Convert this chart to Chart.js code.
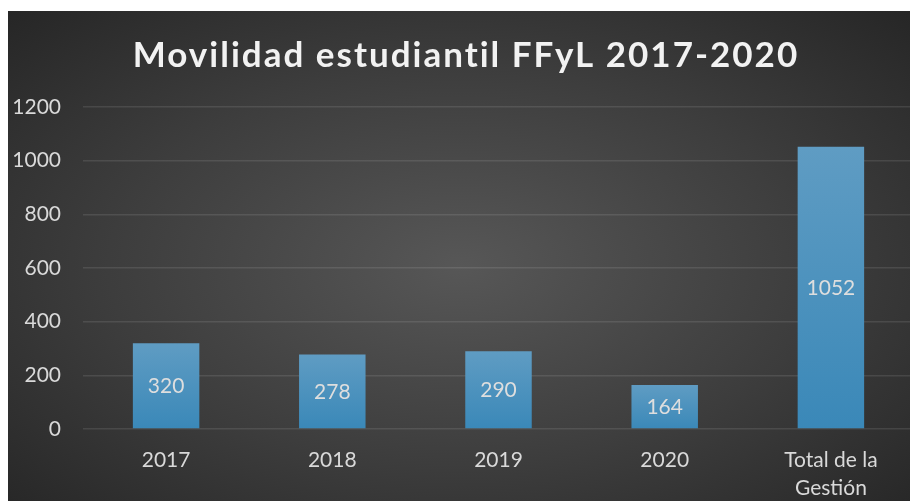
<!DOCTYPE html>
<html>
<head>
<meta charset="utf-8">
<script src="https://cdn.jsdelivr.net/npm/chart.js@4"></script>
<style>
  html, body { margin: 0; padding: 0; background: #ffffff; width: 910px; height: 501px; overflow: hidden; }
  #wrap {
    position: absolute; left: 8px; top: 11px; width: 906px; height: 490px;
    background: radial-gradient(ellipse farthest-corner at 50% 52%, #575757 0%, #3d3d3d 55%, #262626 100%);
  }
  canvas { display: block; }
</style>
</head>
<body>
<div id="wrap"><canvas id="c" width="906" height="490"></canvas></div>
<script>
const titleText = 'Movilidad estudiantil FFyL 2017-2020';
const categories = ['2017', '2018', '2019', '2020', ['Total de la', 'Gestión']];
const values = [320, 278, 290, 164, 1052];
const yTicks = [0, 200, 400, 600, 800, 1000, 1200];

const FONT = 'Lato, "Open Sans", sans-serif';

const titlePlugin = {
  id: 'customTitle',
  afterDraw(chart) {
    const ctx = chart.ctx;
    ctx.save();
    ctx.font = 'bold 35px ' + FONT;
    ctx.fillStyle = '#f2f2f2';
    ctx.textAlign = 'center';
    ctx.textBaseline = 'alphabetic';
    try { ctx.letterSpacing = '2px'; } catch (e) {}
    ctx.fillText(titleText, 458, 56);
    ctx.restore();
  }
};

const labelPlugin = {
  id: 'barLabels',
  afterDatasetsDraw(chart) {
    const ctx = chart.ctx;
    const meta = chart.getDatasetMeta(0);
    ctx.save();
    ctx.font = '21px ' + FONT;
    ctx.fillStyle = '#dedede';
    ctx.textAlign = 'center';
    ctx.textBaseline = 'middle';
    meta.data.forEach((el, i) => {
      const v = chart.data.datasets[0].data[i];
      ctx.fillText(String(v), el.x, (el.y + el.base) / 2 + 1);
    });
    ctx.restore();
  }
};

new Chart(document.getElementById('c'), {
  type: 'bar',
  data: {
    labels: categories,
    datasets: [{
      data: values,
      barPercentage: 0.4,
      categoryPercentage: 1.0,
      borderWidth: 0,
      backgroundColor: (c) => {
        const chart = c.chart;
        if (!chart.chartArea || c.raw === undefined) return '#4a90be';
        const y = chart.scales.y;
        const top = y.getPixelForValue(c.raw);
        const bottom = y.getPixelForValue(0);
        const g = chart.ctx.createLinearGradient(0, top, 0, bottom);
        g.addColorStop(0, '#5f9cc3');
        g.addColorStop(1, '#3a88b8');
        return g;
      }
    }]
  },
  options: {
    responsive: false,
    animation: false,
    devicePixelRatio: 1,
    layout: { padding: { top: 96, left: 0, right: 0, bottom: 0 } },
    plugins: {
      legend: { display: false },
      title: { display: false },
      tooltip: { enabled: false }
    },
    scales: {
      x: {
        offset: true,
        grid: { display: false, drawTicks: false },
        border: { display: false },
        ticks: {
          color: '#d9d9d9',
          font: { family: FONT, size: 21, lineHeight: 1.3 },
          padding: 18,
          maxRotation: 0,
          autoSkip: false
        },
        afterFit: (s) => { s.height = 72; }
      },
      y: {
        min: 0,
        max: 1200,
        afterBuildTicks: (s) => { s.ticks = yTicks.map(v => ({ value: v })); },
        grid: { color: 'rgba(255,255,255,0.10)', lineWidth: 1.5, drawTicks: false },
        border: { display: false },
        ticks: {
          color: '#d9d9d9',
          font: { family: FONT, size: 21 },
          padding: 22,
          callback: (v) => String(v)
        },
        afterFit: (s) => { s.width = 75; }
      }
    }
  },
  plugins: [labelPlugin, titlePlugin]
});
</script>
</body>
</html>
